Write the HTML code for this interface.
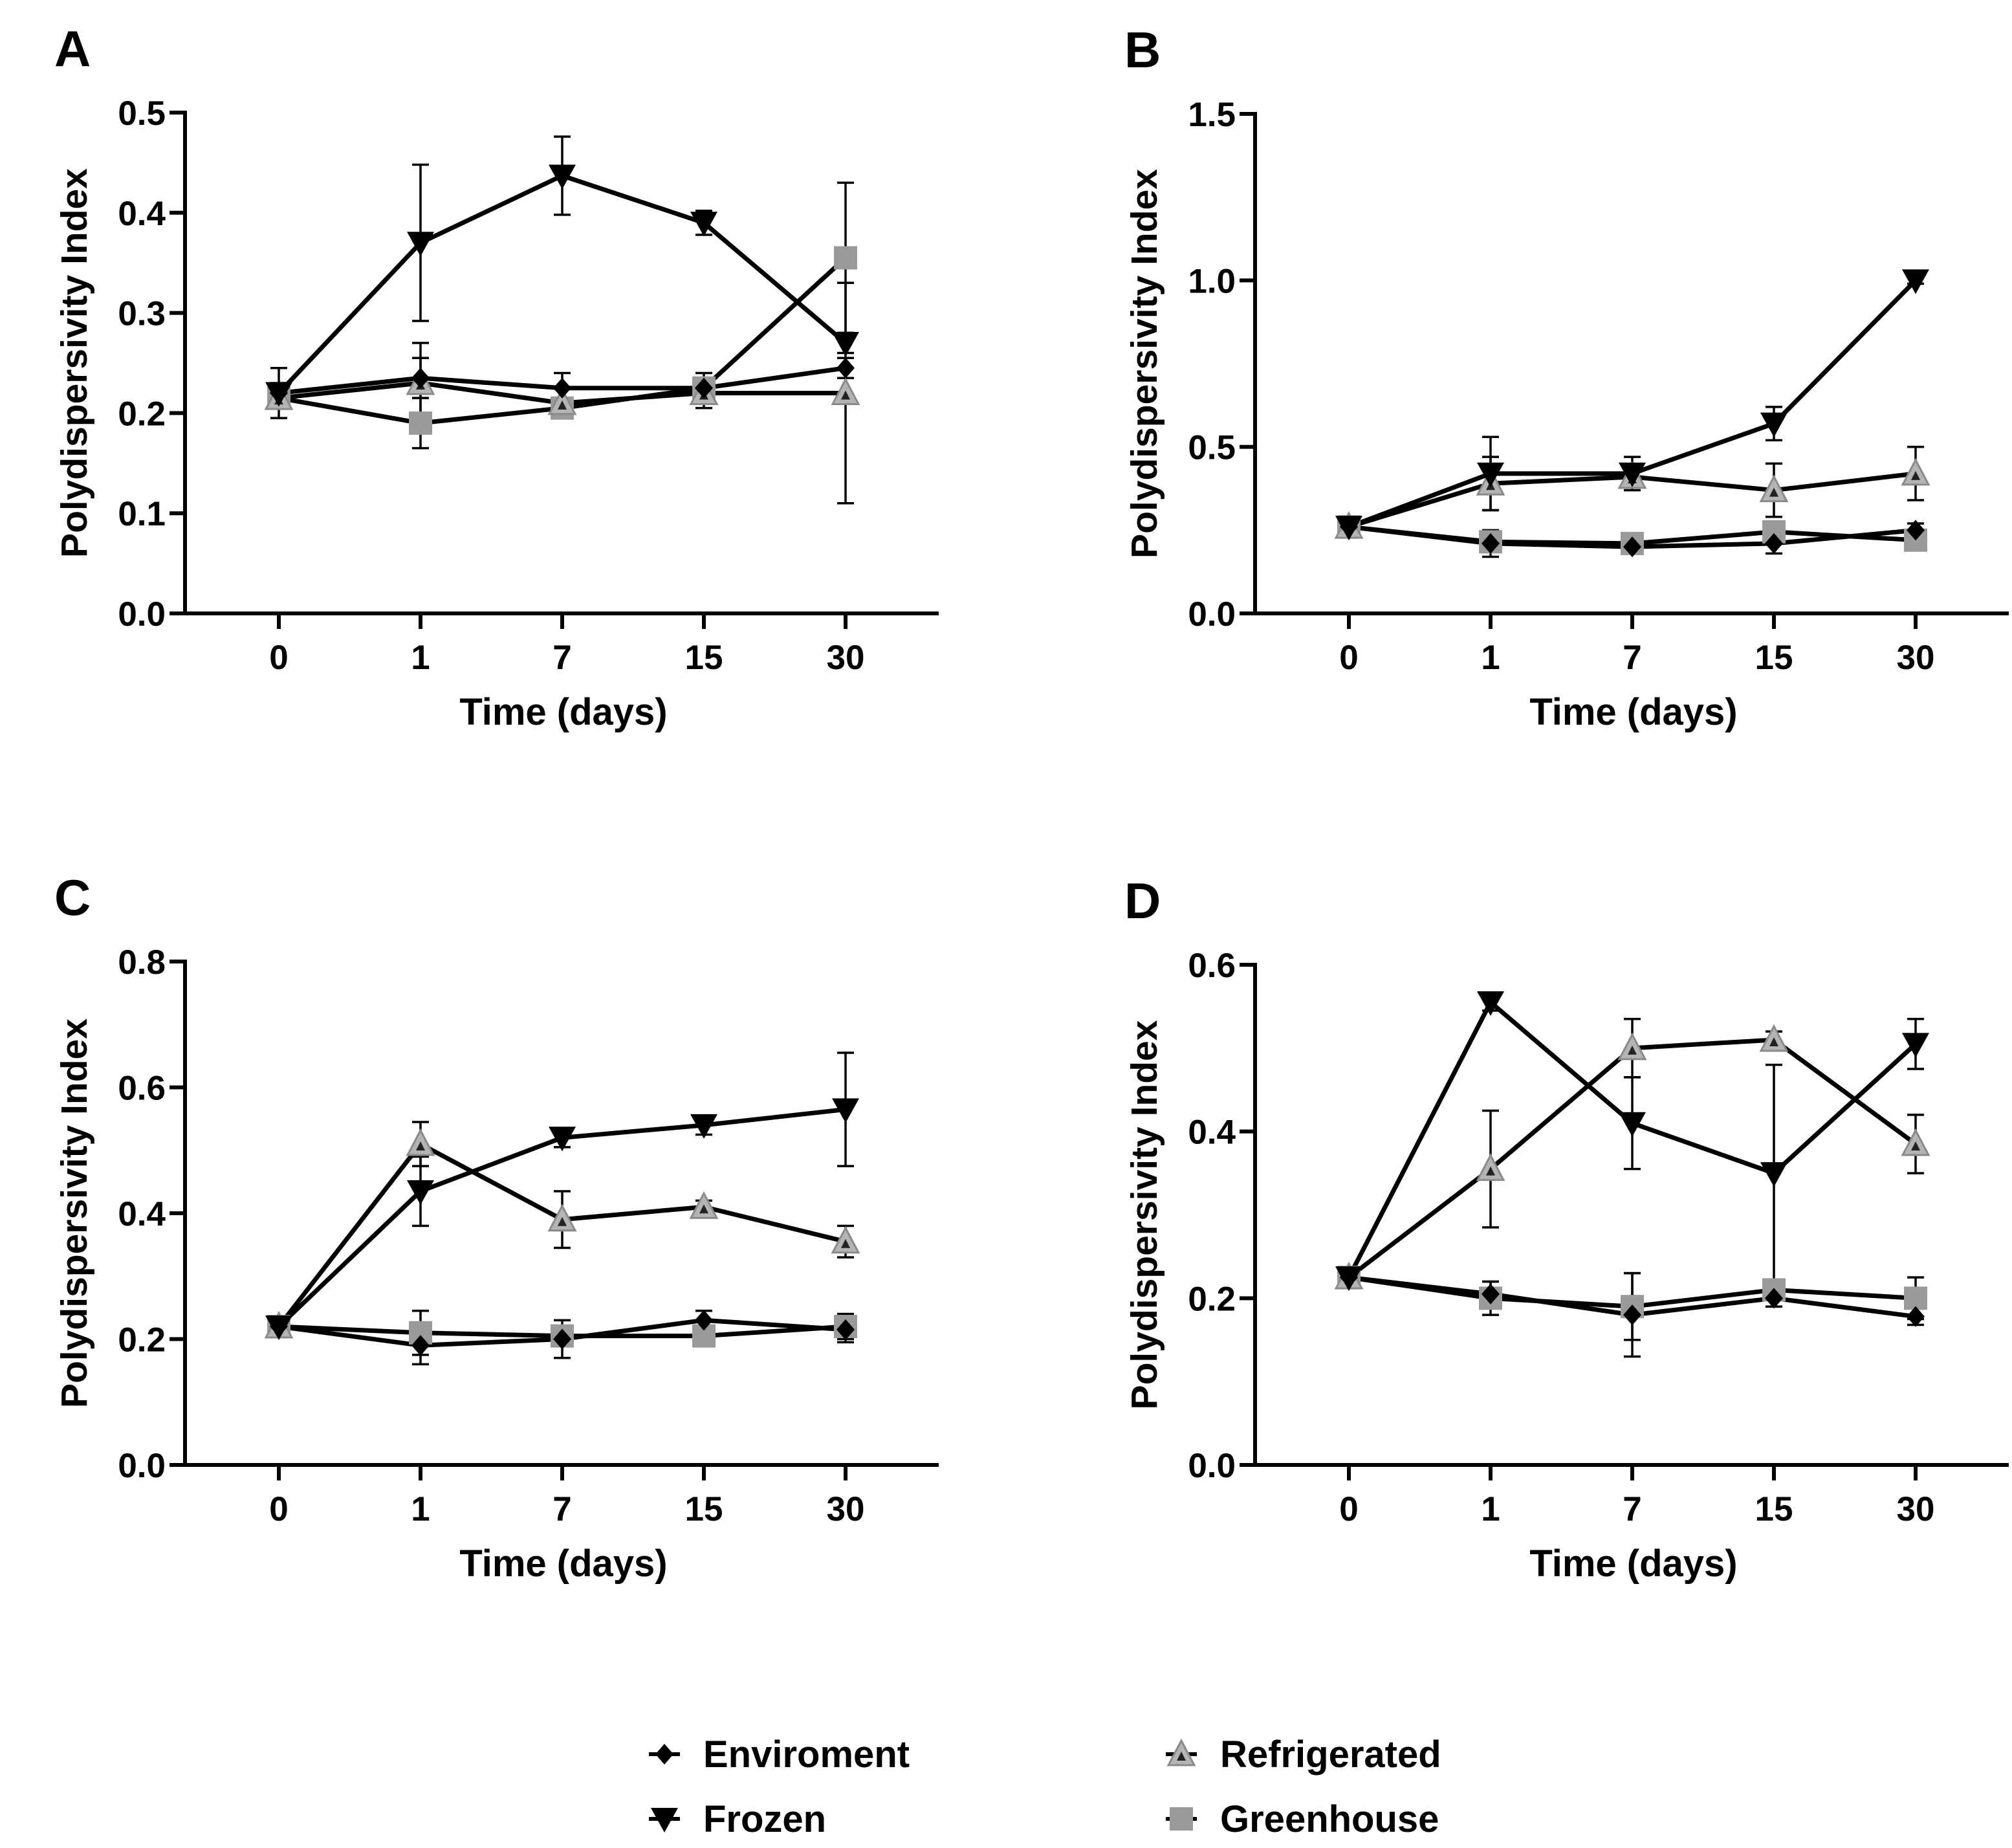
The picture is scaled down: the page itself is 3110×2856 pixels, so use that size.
<!DOCTYPE html>
<html><head><meta charset="utf-8"><style>
html,body{margin:0;padding:0;background:#fff;}
svg{display:block;font-family:"Liberation Sans",Arial,sans-serif;font-weight:bold;}
</style></head><body>
<svg id="fig" width="3110" height="2856" viewBox="0 0 3110 2856" xmlns="http://www.w3.org/2000/svg"></svg>
<script>
const categories = ["0","1","7","15","30"];
const seriesNames = ["Enviroment","Frozen","Refrigerated","Greenhouse"];
// Panel A
const aEnv = [0.22,0.235,0.225,0.225,0.245];
const aEnvErr = [0.01,0.02,0.015,0.01,0.01];
const aFro = [0.22,0.37,0.437,0.39,0.27];
const aFroErr = [0.025,0.078,0.039,0.012,0.01];
const aRef = [0.215,0.23,0.21,0.22,0.22];
const aRefErr = [0.01,0.04,0.015,0.015,0.11];
const aGre = [0.215,0.19,0.205,0.225,0.355];
const aGreErr = [0.01,0.025,0.01,0.015,0.075];
const aTicks = [0,0.1,0.2,0.3,0.4,0.5];
// Panel B
const bEnv = [0.26,0.21,0.20,0.21,0.25];
const bEnvErr = [0.01,0.04,0.01,0.03,0.02];
const bFro = [0.26,0.42,0.42,0.57,1.0];
const bFroErr = [0.02,0.11,0.05,0.05,0.01];
const bRef = [0.26,0.39,0.41,0.37,0.42];
const bRefErr = [0.01,0.08,0.03,0.08,0.08];
const bGre = [0.26,0.215,0.21,0.245,0.22];
const bGreErr = [0.01,0.03,0.01,0.03,0.02];
const bTicks = [0,0.5,1.0,1.5];
// Panel C
const cEnv = [0.22,0.19,0.2,0.23,0.215];
const cEnvErr = [0.01,0.03,0.03,0.015,0.02];
const cFro = [0.22,0.435,0.52,0.54,0.565];
const cFroErr = [0.01,0.055,0.015,0.015,0.09];
const cRef = [0.22,0.51,0.39,0.41,0.355];
const cRefErr = [0.01,0.035,0.045,0.01,0.025];
const cGre = [0.22,0.21,0.205,0.205,0.22];
const cGreErr = [0.01,0.035,0.01,0.01,0.02];
const cTicks = [0,0.2,0.4,0.6,0.8];
// Panel D
const dEnv = [0.225,0.205,0.18,0.2,0.178];
const dEnvErr = [0.01,0.015,0.05,0.01,0.01];
const dFro = [0.225,0.555,0.41,0.35,0.505];
const dFroErr = [0.01,0.01,0.055,0.13,0.03];
const dRef = [0.225,0.355,0.5,0.51,0.385];
const dRefErr = [0.01,0.07,0.035,0.01,0.035];
const dGre = [0.225,0.2,0.19,0.21,0.2];
const dGreErr = [0.01,0.02,0.04,0.01,0.025];
const dTicks = [0,0.2,0.4,0.6];

const NS="http://www.w3.org/2000/svg";
const svg=document.getElementById('fig');
function mk(tag,attrs,parent){const e=document.createElementNS(NS,tag);for(const k in attrs)e.setAttribute(k,attrs[k]);(parent||svg).appendChild(e);return e;}
function txt(s,attrs,parent){const e=mk('text',attrs,parent);e.textContent=s;return e;}

function marker(g,type,x,y){
  if(type==="Enviroment"){mk('polygon',{points:`${x},${y-16} ${x+14},${y} ${x},${y+16} ${x-14},${y}`,fill:'#000'},g);}
  else if(type==="Frozen"){mk('polygon',{points:`${x-21},${y-17} ${x+21},${y-17} ${x},${y+21}`,fill:'#000'},g);}
  else if(type==="Refrigerated"){mk('polygon',{points:`${x-20},${y+17} ${x+20},${y+17} ${x},${y-21}`,fill:'#b4b4b4',stroke:'#8a8a8a','stroke-width':3},g);
    mk('polygon',{points:`${x-7},${y+10} ${x+7},${y+10} ${x},${y-4}`,fill:'#222'},g);}
  else {mk('rect',{x:x-18,y:y-18,width:36,height:36,fill:'#9a9a9a'},g);}
}

function panel(id,letter,ox,y0px,ytop,ymax,ticks,series){
  const g=mk('g',{});
  
  
  const axL=ox, axR=ox+1165;
  const X=i=>ox+145+i*219;
  const Y=v=>y0px-(v/ymax)*(y0px-ytop);
  const lt=txt(letter,{x:ox-202,y:ytop-72,'font-size':78},g);
  
  
  const ya=mk('line',{x1:axL,y1:ytop-3,x2:axL,y2:y0px+3,stroke:'#000','stroke-width':6},g);
  
  
  const xa=mk('line',{x1:axL-24,y1:y0px,x2:axR,y2:y0px,stroke:'#000','stroke-width':6},g);
  
  
  ticks.forEach(t=>{
    mk('line',{x1:axL-24,y1:Y(t),x2:axL,y2:Y(t),stroke:'#000','stroke-width':6},g);
    const tl=txt(t.toFixed(1),{x:axL-30,y:Y(t)+19,'font-size':53,'text-anchor':'end'},g);
    
    
  });
  categories.forEach((c,i)=>{
    mk('line',{x1:X(i),y1:y0px,x2:X(i),y2:y0px+24,stroke:'#000','stroke-width':6},g);
    const tl=txt(c,{x:X(i),y:y0px+86,'font-size':53,'text-anchor':'middle'},g);
    
    
  });
  const xt=txt('Time (days)',{x:ox+585,y:y0px+172,'font-size':58,'text-anchor':'middle'},g);
  
  
  const yc=(ytop+y0px)/2;
  const yt=txt('Polydispersivity Index',{x:0,y:0,'font-size':57,'text-anchor':'middle',transform:`translate(${ox-152},${yc}) rotate(-90)`},g);
  
  
  series.forEach(s=>{
    s.v.forEach((v,i)=>{
      const e=s.e[i];
      const eb=mk('g',{},g);
      
      
      mk('line',{x1:X(i),y1:Y(v-e),x2:X(i),y2:Y(v+e),stroke:'#000','stroke-width':3.5},eb);
      mk('line',{x1:X(i)-13,y1:Y(v-e),x2:X(i)+13,y2:Y(v-e),stroke:'#000','stroke-width':3.5},eb);
      mk('line',{x1:X(i)-13,y1:Y(v+e),x2:X(i)+13,y2:Y(v+e),stroke:'#000','stroke-width':3.5},eb);
    });
  });
  series.forEach(s=>{
    const ln=mk('polyline',{points:s.v.map((v,i)=>X(i)+','+Y(v)).join(' '),fill:'none',stroke:'#000','stroke-width':7,'stroke-linejoin':'round'},g);
    
    
  });
  series.forEach(s=>{
    s.v.forEach((v,i)=>{
      const mg=mk('g',{},g);
      
      
      marker(mg,s.n,X(i),Y(v));
    });
  });
}
function S(n,v,e){return {n,v,e};}
panel('a','A',286,948,174,0.5,aTicks,[S('Greenhouse',aGre,aGreErr),S('Refrigerated',aRef,aRefErr),S('Enviroment',aEnv,aEnvErr),S('Frozen',aFro,aFroErr)]);
panel('b','B',1940,948,176,1.5,bTicks,[S('Greenhouse',bGre,bGreErr),S('Refrigerated',bRef,bRefErr),S('Enviroment',bEnv,bEnvErr),S('Frozen',bFro,bFroErr)]);
panel('c','C',286,2264,1486,0.8,cTicks,[S('Greenhouse',cGre,cGreErr),S('Refrigerated',cRef,cRefErr),S('Enviroment',cEnv,cEnvErr),S('Frozen',cFro,cFroErr)]);
panel('d','D',1940,2264,1491,0.6,dTicks,[S('Greenhouse',dGre,dGreErr),S('Refrigerated',dRef,dRefErr),S('Enviroment',dEnv,dEnvErr),S('Frozen',dFro,dFroErr)]);

const lg=mk('g',{});


const legPos=[[1027,2711],[1027,2811],[1826,2711],[1826,2811]];
seriesNames.forEach((n,i)=>{
  const [x,y]=legPos[i];
  const le=mk('g',{},lg);
  
  
  mk('line',{x1:x-24,y1:y,x2:x+24,y2:y,stroke:'#000','stroke-width':6},le);
  marker(le,n,x,y);
  txt(n,{x:x+60,y:y+20,'font-size':58},le);
});
</script>
</body></html>
